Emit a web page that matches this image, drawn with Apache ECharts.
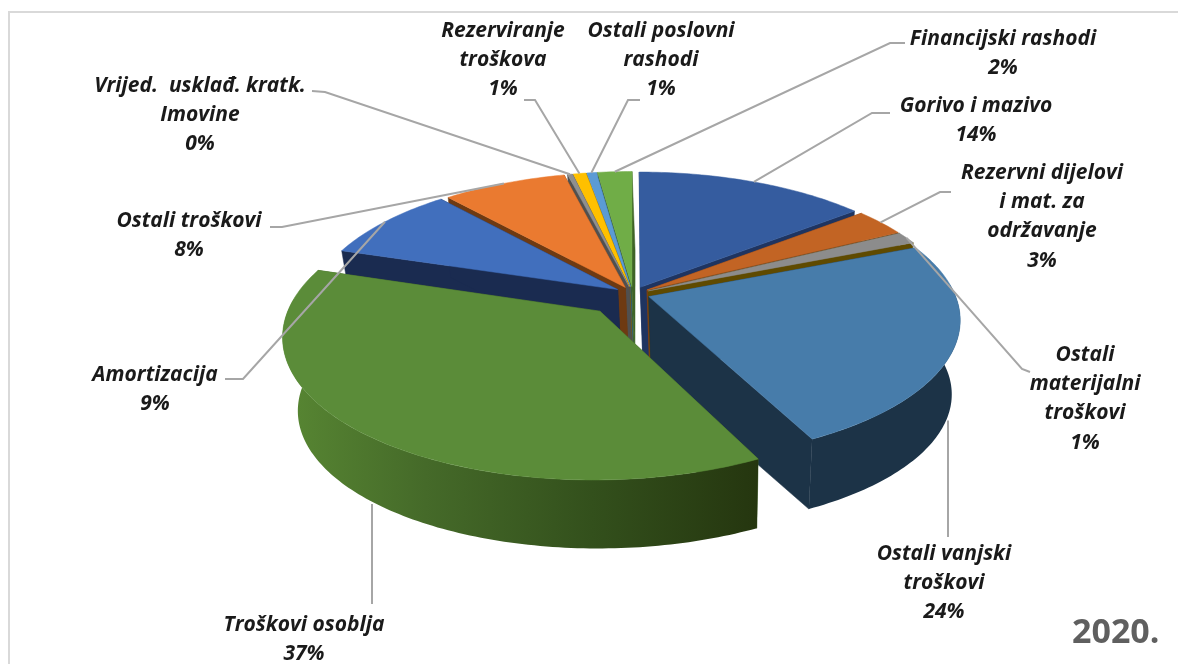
<!DOCTYPE html>
<html><head><meta charset="utf-8">
<style>html,body{margin:0;padding:0;background:#fff}#c{width:1178px;height:664px}</style>
<script src="https://cdn.jsdelivr.net/npm/echarts@6/dist/echarts.min.js"></script>
</head><body><div id="c"></div>
<script>
// ---- data ----
const categories = ['Gorivo i mazivo','Rezervni dijelovi\ni mat. za\nodržavanje','Ostali\nmaterijalni\ntroškovi','Ostali vanjski\ntroškovi','Troškovi osoblja','Amortizacija','Ostali troškovi','Vrijed.  uskla\u0111. kratk.\nImovine','Rezerviranje\ntroškova','Ostali poslovni\nrashodi','Financijski rashodi'];
const shares = [14.2,3.2,1.4,23.8,37.3,8.7,7.6,0.3,0.8,0.6,2.1];
// ---- style ----
const topColors  = ['#355c9f','#c26424','#8c8c8c','#477caa','#5b8c39','#416fbd','#ea7a30','#8f8f8f','#ffc000','#5b9bd5','#70ad47'];
const sideColors = ['#1f3460','#7f3f14','#5f4a00','#1c3347','#3c5a24','#1a2b50','#6e3a12','#505050','#7f6000','#2f5f8a','#3f6427'];
const explode    = [.055,.055,.055,.055,.163,.06,.055,.055,.055,.055,.055];
// ---- label layout: [centre x, first line y, elbow x, elbow y, leader start x, leader start y]
const labelLayout = [
 [976,106,872,113,890,113],[1042,173,940,192,951,192],[1085,355,1022,369,1030,372],[944,554,null,null,948,537],
 [304,625,null,null,372,604],[155,375,243,379,225,379],[189,221,282,227,270,227],[200,86,325,92,312,91],
 [503,31,535,100,524,100],[661,31,628,100,640,100],[1003,39,890,43,905,43]];
const C = {x:633,y:294}, Rx=306, Ry=135.7, k=.16, q=.965, H=75, lowShift=3, lineH=29.2;
const total = shares.reduce((a,b)=>a+b,0);
const slices=[]; let cum=0;
shares.forEach((v,i)=>{
  const a0=cum/total*2*Math.PI; cum+=v; const a1=cum/total*2*Math.PI; const m=(a0+a1)/2;
  slices.push({a0,a1,m,hx:Math.sin(m)*explode[i],hy:-Math.cos(m)*explode[i]});
});
function proj(X,Y,low){
  const s=1/(1-k*Y), dx=Rx*X*s, dy=Ry*Y*s;
  return low?[C.x+lowShift+dx*q,C.y+H+dy*q]:[C.x+dx,C.y+dy];
}
function rimPt(sl,a,low){return proj(sl.hx+Math.sin(a),sl.hy-Math.cos(a),low);}
function hubPt(sl,low){return proj(sl.hx,sl.hy,low);}
function arc(sl,a0,a1,low){
  const n=Math.max(2,Math.ceil((a1-a0)/(Math.PI/180))), pts=[];
  for(let j=0;j<=n;j++)pts.push(rimPt(sl,a0+(a1-a0)*j/n,low));
  return pts;
}
const depthOrder=slices.map((s,i)=>i).sort((a,b)=>(-Math.cos(slices[a].m))-(-Math.cos(slices[b].m)));
function renderSlice(params,api){
  const i=api.value(0), sl=slices[i], rank=depthOrder.indexOf(i)*4, ch=[];
  const side=sideColors[i];
  const poly=(points,fill,z)=>({type:'polygon',z2:rank+z,shape:{points},style:{fill,stroke:fill,lineWidth:.5}});
  [sl.a0,sl.a1].forEach(a=>{
    ch.push(poly([hubPt(sl),rimPt(sl,a),rimPt(sl,a,true),hubPt(sl,true)],side,0));
  });
  const lo=Math.max(sl.a0,85*Math.PI/180), hi=Math.min(sl.a1,275*Math.PI/180);
  if(hi>lo){
    const up=arc(sl,lo,hi,false), dn=arc(sl,lo,hi,true).reverse();
    let fill=side;
    if(i===4) fill={type:'linear',x:1,y:0,x2:0,y2:0,colorStops:[{offset:0,color:'#25360f'},{offset:.35,color:'#33501c'},{offset:.7,color:'#456a29'},{offset:1,color:'#588733'}]};
    ch.push({type:'polygon',z2:rank+1,shape:{points:up.concat(dn)},style:{fill}});
  }
  ch.push(poly([hubPt(sl)].concat(arc(sl,sl.a0,sl.a1,false)),topColors[i],2));
  return {type:'group',children:ch};
}
function renderLabel(params,api){
  const i=api.value(0), sl=slices[i], L=labelLayout[i];
  const low=i===3||i===4;
  const end=rimPt(sl,sl.m,low);
  const pct=Math.round(shares[i]/total*100)+'%';
  const lines=categories[i].split('\n').concat(pct);
  const pts=low?[[L[4],L[5]],[L[4],end[1]]]:[[L[4],L[5]],[L[2],L[3]],end];
  const ch=[{type:'polyline',shape:{points:pts},style:{stroke:'#a6a6a6',lineWidth:2,fill:null}}];
  lines.forEach((t,j)=>ch.push({type:'text',style:{text:t,x:L[0],y:L[1]+j*lineH,align:'center',verticalAlign:'middle',
    font:'italic bold 21px "Open Sans"',fill:'#1a1a1a'}}));
  return {type:'group',children:ch};
}
const ids=shares.map((v,i)=>[i]);
echarts.init(document.getElementById('c')).setOption({
  animation:false,backgroundColor:'#fff',
  graphic:[
   {type:'rect',z:0,shape:{x:9,y:12,width:1300,height:800},style:{fill:'#fff',stroke:'#d9d9d9',lineWidth:2}},
   {type:'text',z:20,style:{text:'2020.',x:1072,y:633,verticalAlign:'middle',font:'bold 34px "Open Sans"',fill:'#5f5f5f'}}
  ],
  series:[
   {type:'custom',coordinateSystem:'none',z:5,data:ids,renderItem:renderSlice,silent:true},
   {type:'custom',coordinateSystem:'none',z:10,data:ids,renderItem:renderLabel,silent:true}
  ]
});
</script></body></html>
